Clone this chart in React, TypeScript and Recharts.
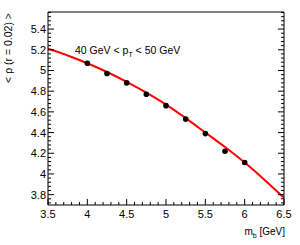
import React from 'react';
import { ComposedChart, Line, Scatter, XAxis, YAxis } from 'recharts';

// measured points
const massPoints = [4.0, 4.25, 4.5, 4.75, 5.0, 5.25, 5.5, 5.75, 6.0];
const rhoPoints = [5.07, 4.97, 4.88, 4.77, 4.66, 4.53, 4.39, 4.22, 4.11];

// fitted curve
const fitMass = [3.5, 3.75, 4.0, 4.25, 4.5, 4.75, 5.0, 5.25, 5.5, 5.75, 6.0, 6.25, 6.5];
const fitRho = [5.21, 5.145, 5.07, 4.985, 4.89, 4.785, 4.67, 4.54, 4.40, 4.26, 4.11, 3.945, 3.77];

const xMajorTicks = [3.5, 4, 4.5, 5, 5.5, 6, 6.5];
const yMajorTicks = [3.8, 4, 4.2, 4.4, 4.6, 4.8, 5, 5.2, 5.4];

const X_DOMAIN: [number, number] = [3.5, 6.5];
const Y_DOMAIN: [number, number] = [3.7, 5.565];

const points = massPoints.map((x, i) => ({ x, y: rhoPoints[i] }));
const curve = fitMass.map((x, i) => ({ x, y: fitRho[i] }));

const range = (from: number, to: number, step: number) => {
  const out: number[] = [];
  for (let v = from; v <= to + 1e-9; v += step) out.push(Math.round(v * 1000) / 1000);
  return out;
};
const xTicks = range(3.5, 6.5, 0.1);
const yTicks = range(3.72, 5.56, 0.04);

const isMajor = (v: number, majors: number[]) => majors.some((m) => Math.abs(m - v) < 1e-6);
const fmt = (v: number) => String(Math.round(v * 10) / 10);

const FONT = 'Liberation Sans, Arial, sans-serif';
const MAJOR = 6;
const MINOR = 3;

const BottomTick = ({ x, y, payload }: any) => {
  const major = isMajor(payload.value, xMajorTicks);
  return (
    <g>
      <line x1={x} x2={x} y1={y} y2={y - (major ? MAJOR : MINOR)} stroke="#000" />
      {major && (
        <text x={x} y={y + 13} textAnchor="middle" fontSize={11} fill="#000" fontFamily={FONT}>
          {fmt(payload.value)}
        </text>
      )}
    </g>
  );
};

const TopTick = ({ x, y, payload }: any) => {
  const major = isMajor(payload.value, xMajorTicks);
  return <line x1={x} x2={x} y1={y} y2={y + (major ? MAJOR : MINOR)} stroke="#000" />;
};

const LeftTick = ({ x, y, payload }: any) => {
  const major = isMajor(payload.value, yMajorTicks);
  return (
    <g>
      <line x1={x} x2={x + (major ? MAJOR : MINOR)} y1={y} y2={y} stroke="#000" />
      {major && (
        <text x={x - 2} y={y + 4} textAnchor="end" fontSize={11} fill="#000" fontFamily={FONT}>
          {fmt(payload.value)}
        </text>
      )}
    </g>
  );
};

const RightTick = ({ x, y, payload }: any) => {
  const major = isMajor(payload.value, yMajorTicks);
  return <line x1={x} x2={x - (major ? MAJOR : MINOR)} y1={y} y2={y} stroke="#000" />;
};

const Dot = ({ cx, cy }: any) => <circle cx={cx} cy={cy} r={2.8} fill="#000" />;

const App: React.FC = () => {
  return (
    <div style={{ position: 'absolute', left: 0, top: 0, width: 300, height: 245, background: '#fff' }}>
      <ComposedChart
        width={300}
        height={245}
        margin={{ top: 11, right: 15, bottom: 10, left: 8 }}
        style={{ fontFamily: FONT }}
      >
        <XAxis
          xAxisId="b"
          type="number"
          dataKey="x"
          domain={X_DOMAIN}
          ticks={xTicks}
          interval={0}
          height={30}
          tickSize={0}
          tickMargin={0}
          tickLine={false}
          tick={<BottomTick />}
          stroke="#000"
          allowDataOverflow
        />
        <XAxis
          xAxisId="t"
          orientation="top"
          type="number"
          domain={X_DOMAIN}
          ticks={xTicks}
          interval={0}
          height={1}
          tickSize={0}
          tickMargin={0}
          tickLine={false}
          tick={<TopTick />}
          stroke="#000"
          allowDataOverflow
        />
        <YAxis
          yAxisId="l"
          type="number"
          dataKey="y"
          domain={Y_DOMAIN}
          ticks={yTicks}
          interval={0}
          width={40}
          tickSize={0}
          tickMargin={0}
          tickLine={false}
          tick={<LeftTick />}
          stroke="#000"
          allowDataOverflow
        />
        <YAxis
          yAxisId="r"
          orientation="right"
          type="number"
          domain={Y_DOMAIN}
          ticks={yTicks}
          interval={0}
          width={1}
          tickSize={0}
          tickMargin={0}
          tickLine={false}
          tick={<RightTick />}
          stroke="#000"
          allowDataOverflow
        />
        <Line
          xAxisId="b"
          yAxisId="l"
          data={curve}
          dataKey="y"
          type="monotone"
          stroke="#ff0000"
          strokeWidth={2}
          dot={false}
          isAnimationActive={false}
        />
        <Scatter
          xAxisId="b"
          yAxisId="l"
          data={points}
          dataKey="y"
          fill="#000"
          shape={<Dot />}
          isAnimationActive={false}
        />
        <text x={75} y={54} fontSize={10.5} fill="#000" fontFamily={FONT}>
          40 GeV &lt; p
          <tspan dy={3} fontSize={7}>T</tspan>
          <tspan dy={-3}> &lt; 50 GeV</tspan>
        </text>
        <text x={285} y={235} textAnchor="end" fontSize={10} fill="#000" fontFamily={FONT}>
          m<tspan dy={3} fontSize={7}>b</tspan>
          <tspan dy={-3}> [GeV]</tspan>
        </text>
        <text
          x={12}
          y={13}
          transform="rotate(-90 12 13)"
          textAnchor="end"
          fontSize={10.5}
          fill="#000"
          fontFamily={FONT}
        >
          &lt; ρ (r = 0.02) &gt;
        </text>
      </ComposedChart>
    </div>
  );
};

export default App;
